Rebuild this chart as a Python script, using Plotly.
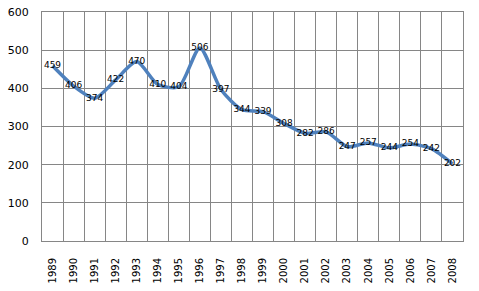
import plotly.graph_objects as go

years = [str(y) for y in range(1989, 2009)]
values = [459, 406, 374, 422, 470, 410, 404, 506, 397, 344, 339, 308, 282, 286, 247, 257, 244, 254, 242, 202]
y_ticks = [0, 100, 200, 300, 400, 500, 600]

fig = go.Figure()
fig.add_trace(go.Scatter(
    x=years, y=values,
    mode="lines+text",
    text=[str(v) for v in values],
    textposition="middle center",
    textfont=dict(family="DejaVu Sans", size=9, color="#000000"),
    line=dict(color="#4F81BD", width=3.5, shape="spline", smoothing=0.7),
    cliponaxis=False,
    showlegend=False,
))

grid = "#868686"
fig.update_layout(
    width=479, height=291,
    margin=dict(l=42, r=16, t=12, b=50, autoexpand=False),
    paper_bgcolor="white", plot_bgcolor="white",
    font=dict(family="DejaVu Sans", color="#000000"),
)
fig.update_xaxes(
    type="category", tickson="boundaries", range=[-0.5, 19.5],
    showgrid=True, gridcolor=grid, gridwidth=1,
    showline=True, linecolor=grid, linewidth=1, mirror=True,
    ticks="", tickangle=-90, tickfont=dict(size=10),
    ticklabelstandoff=12, automargin=False,
)
fig.update_yaxes(
    range=[0, 600], tickvals=y_ticks,
    showgrid=True, gridcolor=grid, gridwidth=1,
    showline=True, linecolor=grid, linewidth=1, mirror=True,
    zeroline=False, ticks="", tickfont=dict(size=11),
    ticklabelstandoff=10, automargin=False,
)
fig.write_html("out.html")
